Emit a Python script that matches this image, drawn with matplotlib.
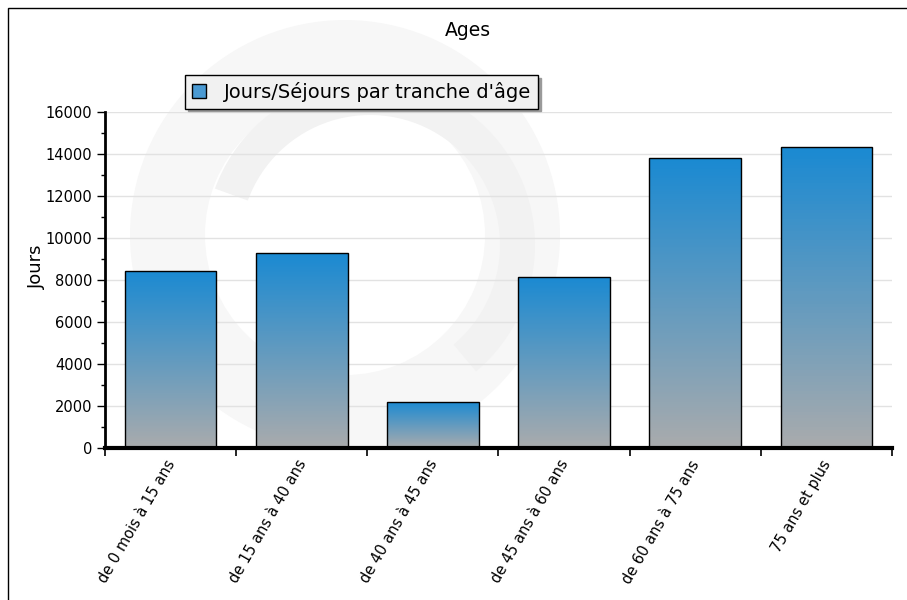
import numpy as np
import matplotlib as mpl
import matplotlib.pyplot as plt
from matplotlib.colors import LinearSegmentedColormap
from matplotlib.patches import Rectangle, Wedge

categories = ["de 0 mois à 15 ans", "de 15 ans à 40 ans", "de 40 ans à 45 ans",
              "de 45 ans à 60 ans", "de 60 ans à 75 ans", "75 ans et plus"]
jours = [8450, 9280, 2200, 8150, 13800, 14320]
yticks = [0, 2000, 4000, 6000, 8000, 10000, 12000, 14000, 16000]

mpl.rcParams['font.family'] = ['DejaVu Sans']

grad = LinearSegmentedColormap.from_list('g', ['#a9abad', '#1b8ad2'])

fig = plt.figure(figsize=(9.07, 6.0), dpi=100)
ax = fig.add_axes([105/907, 1-448/600, 787/907, 336/600])

# outer frame
fig.patches.append(Rectangle((8/907, -0.05), 1.2, (600-8)/600+0.05, transform=fig.transFigure,
                             fill=False, edgecolor='black', linewidth=1.0))

# faint watermark swirl in the background
wm_ax = fig.add_axes([0, 0, 1, 1], zorder=-1)
wm_ax.set_xlim(0, 907)
wm_ax.set_ylim(600, 0)
wm_ax.axis('off')
wm_ax.add_patch(Wedge((345, 235), 215, 0, 360, width=75, facecolor='#f7f7f7', edgecolor='none'))
wm_ax.add_patch(Wedge((370, 245), 165, 200, 50, width=35, facecolor='#f2f2f2', edgecolor='none'))
ax.patch.set_alpha(0)

x = np.arange(len(categories))
width = 0.70

bars = ax.bar(x, jours, width=width, facecolor='none', edgecolor='black', linewidth=1.0, zorder=3)
for b in bars:
    x0, y0 = b.get_x(), b.get_y()
    im = ax.imshow(np.linspace(0, 1, 100).reshape(-1, 1), cmap=grad, aspect='auto', origin='lower',
                   extent=[x0, x0 + b.get_width(), y0, y0 + b.get_height()], zorder=2)
    im.set_clip_path(b)
ax.set_xlim(-0.5, len(categories) - 0.5)
ax.set_ylim(0, 16000)

ax.set_yticks(yticks)
ax.set_yticks(np.arange(1000, 16000, 2000), minor=True)
ax.yaxis.grid(True, color='#e2e2e2', linewidth=1.0, zorder=0)
ax.set_axisbelow(True)

ax.set_xticks(np.arange(len(categories) + 1) - 0.5)
ax.set_xticklabels([])
ax.tick_params(axis='x', length=6, width=1.2, direction='out')
ax.tick_params(axis='y', which='major', length=6, width=1.0, labelsize=10.5, pad=3)
ax.tick_params(axis='y', which='minor', length=3, width=1.0)
for i, lab in enumerate(categories):
    ax.text(i - 0.04, -450, lab, rotation=60, ha='right', va='top', rotation_mode='anchor',
            fontsize=10.5)

for s in ['top', 'right']:
    ax.spines[s].set_visible(False)
ax.spines['bottom'].set_linewidth(3)
ax.spines['left'].set_linewidth(2)

ax.set_ylabel('Jours', fontsize=13)
ax.yaxis.set_label_coords(-0.075, 0.54)
fig.text(468/907, 1-30/600, 'Ages', ha='center', va='center', fontsize=13.5)

proxy = Rectangle((0, 0), 1, 1, facecolor='#4a9ad3', edgecolor='black', linewidth=1.0)
leg = fig.legend([proxy], ["Jours/Séjours par tranche d'âge"], loc='upper left',
                 bbox_to_anchor=(185/907, 1-75/600), bbox_transform=fig.transFigure,
                 borderaxespad=0, fancybox=False, shadow={'color': '#9a9a9a', 'alpha': 1},
                 edgecolor='black', facecolor='#f1f1f1', framealpha=1, fontsize=14,
                 handlelength=0.75, handleheight=0.75, handletextpad=0.9, borderpad=0.35)
leg.get_frame().set_linewidth(1.0)

fig.savefig('out.png', dpi=100, facecolor='white')
